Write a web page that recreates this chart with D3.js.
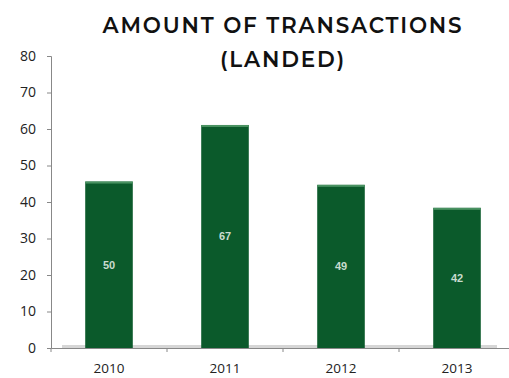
<!DOCTYPE html>
<html>
<head>
<meta charset="utf-8">
<script src="https://cdn.jsdelivr.net/npm/d3@7"></script>
<style>
  body { margin: 0; background: #fff; }
  svg { display: block; }
</style>
</head>
<body>
<div id="chart"></div>
<script>
var years = ["2010", "2011", "2012", "2013"];
var values = [45.6, 61.1, 44.7, 38.4];
var barLabels = ["50", "67", "49", "42"];
var yTicks = [0, 10, 20, 30, 40, 50, 60, 70, 80];

var width = 509,
    height = 378,
    margin = { top: 56, right: -6, bottom: 30, left: 51 };

var svg = d3.select("#chart")
            .append("svg")
            .attr("width", width)
            .attr("height", height);

var x = d3.scaleBand()
          .domain(years)
          .range([margin.left, width - margin.right])
          .paddingInner(0.59)
          .paddingOuter(0.295);

var y = d3.scaleLinear()
          .domain([0, 80])
          .range([height - margin.bottom, margin.top]);

// title, two lines
["AMOUNT OF TRANSACTIONS", "(LANDED)"].forEach(function (t, i) {
  svg.append("text")
     .attr("x", 283)
     .attr("y", 33 + i * 34)
     .attr("text-anchor", "middle")
     .style("font-family", "Montserrat, 'Open Sans', sans-serif")
     .style("font-size", "21.5px")
     .style("font-weight", 600)
     .style("letter-spacing", "1.8px")
     .style("fill", "#111")
     .text(t);
});

// light floor under bars
svg.append("rect")
   .attr("x", 62)
   .attr("y", y(0) - 3)
   .attr("width", 435)
   .attr("height", 3)
   .attr("fill", "#d6d6d6");

// bars
var bars = svg.append("g");
years.forEach(function (d, i) {
  bars.append("rect")
      .attr("x", x(d))
      .attr("y", y(values[i]))
      .attr("width", x.bandwidth())
      .attr("height", y(0) - y(values[i]))
      .attr("fill", "#0b5a2b");

  bars.append("rect")
      .attr("x", x(d))
      .attr("y", y(values[i]))
      .attr("width", x.bandwidth())
      .attr("height", 2)
      .attr("fill", "#4a9262");

  bars.append("text")
      .attr("x", x(d) + x.bandwidth() / 2)
      .attr("y", (y(values[i]) + y(0)) / 2 + 4)
      .attr("text-anchor", "middle")
      .style("font-family", "'Liberation Sans', sans-serif")
      .style("font-size", "11px")
      .style("font-weight", "bold")
      .style("fill", "#c9dccf")
      .text(barLabels[i]);
});

// y axis
var yAxis = svg.append("g")
   .attr("transform", "translate(" + margin.left + ",0)")
   .call(d3.axisLeft(y).tickValues(yTicks).tickSize(4).tickPadding(11));

yAxis.selectAll("text")
     .style("font-family", "'Open Sans', sans-serif")
     .style("font-size", "14px")
     .style("fill", "#222");

// x axis
var xAxis = svg.append("g")
   .attr("transform", "translate(0," + y(0) + ")")
   .call(d3.axisBottom(x).tickSize(0).tickPadding(15));

xAxis.selectAll("text")
     .style("font-family", "'Open Sans', sans-serif")
     .style("font-size", "13.5px")
     .style("fill", "#222");

// category separators below the axis
var step = x.step();
years.forEach(function (d) {
  var sx = x(d) - (step - x.bandwidth()) / 2;
  svg.append("line")
     .attr("x1", sx).attr("x2", sx)
     .attr("y1", y(0)).attr("y2", y(0) + 4)
     .attr("stroke", "#888");
});

svg.selectAll(".domain, .tick line").attr("stroke", "#888");
</script>
</body>
</html>
